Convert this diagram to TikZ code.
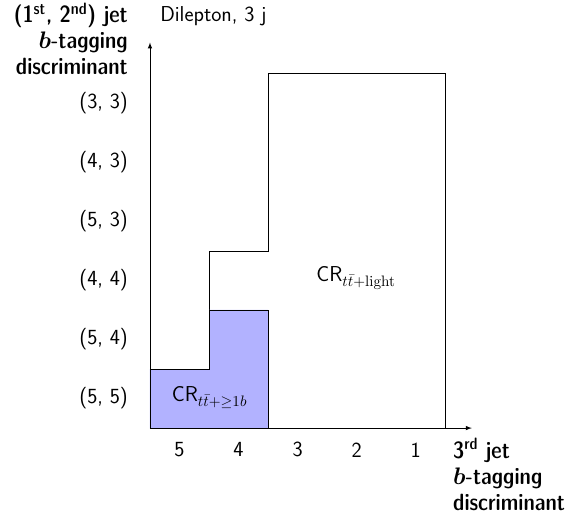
\documentclass[tikz,border=0pt]{standalone}
\usepackage{amsmath,amssymb}
\usepackage{xcolor}
\usepackage{tikz}
\usetikzlibrary{arrows,positioning}

\begin{document}
\begin{tikzpicture}[
    x=1.5cm, y=1.5cm,
    every node/.style={font=\sffamily\fontsize{15.6}{18.5}\selectfont},
    tick/.style={inner sep=0pt},
    title/.style={font=\sffamily\fontseries{sbc}\fontsize{17}{18.8}\selectfont, inner sep=0pt},
    region/.style={draw=black, line width=0.5pt},
    axis/.style={-latex, line width=0.5pt}
]
    \useasboundingbox (-2.54,-1.56) rectangle (7.08,7.25);

    % Axes
    \coordinate (origin) at (0,0);
    \coordinate (ytop) at (0,6.53);
    \coordinate (xend) at (5.45,0);

    % Light region
    \draw[region] (1,2) -- (1,3) -- (2,3) -- (2,6) -- (5,6) -- (5,0);

    % b region
    \draw[region, fill=blue!30] (0,0) -- (0,1) -- (1,1) -- (1,2) -- (2,2) -- (2,0) -- cycle;

    \draw[axis] (origin) -- (ytop);
    \draw[axis] (origin) -- (xend);

    % Region labels
    \node (light) at (3.49,2.54) {CR$_{t\bar{t}+\mathrm{light}}$};
    \node (heavy) at (1.01,0.52) {CR$_{t\bar{t}+\geq 1b}$};

    % y ticks
    \node[tick, anchor=east] (y55) at (-0.37,0.5) {(5, 5)};
    \node[tick, anchor=east] (y54) at (-0.37,1.5) {(5, 4)};
    \node[tick, anchor=east] (y44) at (-0.37,2.5) {(4, 4)};
    \node[tick, anchor=east] (y53) at (-0.37,3.5) {(5, 3)};
    \node[tick, anchor=east] (y43) at (-0.37,4.5) {(4, 3)};
    \node[tick, anchor=east] (y33) at (-0.37,5.5) {(3, 3)};

    % x ticks
    \node[tick] (x5) at (0.5,-0.37) {5};
    \node[tick] (x4) at (1.5,-0.37) {4};
    \node[tick] (x3) at (2.5,-0.37) {3};
    \node[tick] (x2) at (3.5,-0.37) {2};
    \node[tick] (x1) at (4.5,-0.37) {1};

    % Titles
    \node[title, align=right, anchor=north east] (ytitle) at (-0.37,7.21) {(1$^{\text{st}}$, 2$^{\text{nd}}$) jet\\$\boldsymbol{b}$-tagging\\discriminant};
    \node[title, align=left, anchor=north west] (xtitle) at (5.13,-0.17) {3$^{\text{rd}}$ jet\\$\boldsymbol{b}$-tagging\\discriminant};
    \node[anchor=base west, inner sep=0pt] (chan) at (0.17,6.89) {Dilepton, 3 j};
\end{tikzpicture}
\end{document}
